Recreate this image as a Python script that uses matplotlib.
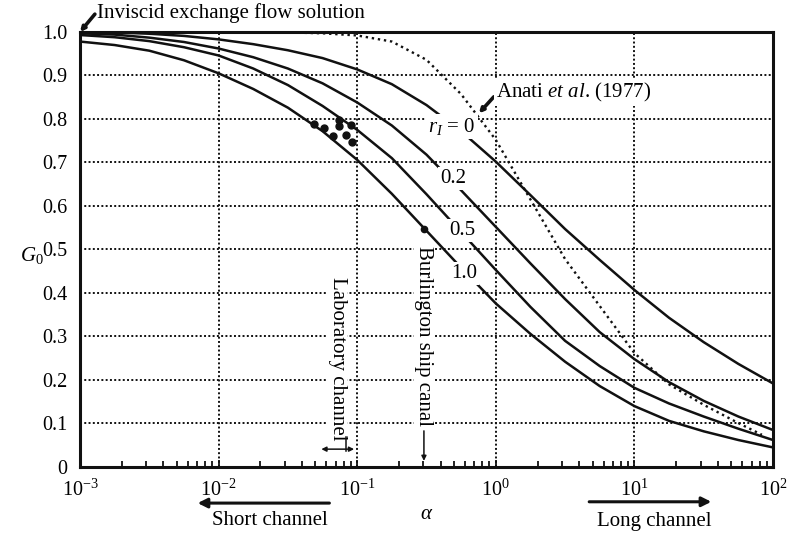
import matplotlib
matplotlib.use("Agg")
import matplotlib.pyplot as plt
import numpy as np

plt.rcParams["font.family"] = ["Liberation Serif", "DejaVu Serif"]
plt.rcParams["mathtext.fontset"] = "custom"
plt.rcParams["mathtext.rm"] = "Liberation Serif"
plt.rcParams["mathtext.it"] = "Liberation Serif:italic"
plt.rcParams["mathtext.bf"] = "Liberation Serif:bold"
plt.rcParams["font.size"] = 15

# G0 against log10(alpha) for each interfacial friction ratio r_I
r_labels = ["$r_I$ = 0", "0.2", "0.5", "1.0"]
log_alpha = [-3.0, -2.75, -2.5, -2.25, -2.0, -1.75, -1.5, -1.25, -1.0, -0.75, -0.5,
             -0.25, 0.0, 0.25, 0.5, 0.75, 1.0, 1.25, 1.5, 1.75, 2.0]
g0_r0 = [1.000, 0.999, 0.996, 0.991, 0.983, 0.972, 0.958, 0.940, 0.914, 0.880, 0.832,
         0.772, 0.702, 0.625, 0.547, 0.476, 0.407, 0.343, 0.287, 0.237, 0.192]
g0_r02 = [0.997, 0.994, 0.987, 0.977, 0.962, 0.942, 0.916, 0.882, 0.838, 0.785, 0.718,
          0.636, 0.552, 0.468, 0.386, 0.310, 0.248, 0.195, 0.152, 0.116, 0.085]
g0_r05 = [0.993, 0.988, 0.979, 0.965, 0.946, 0.916, 0.878, 0.830, 0.775, 0.710, 0.627,
          0.540, 0.453, 0.368, 0.290, 0.232, 0.182, 0.146, 0.116, 0.088, 0.062]
g0_r1 = [0.978, 0.970, 0.957, 0.935, 0.905, 0.869, 0.826, 0.772, 0.706, 0.628, 0.543,
         0.458, 0.376, 0.306, 0.242, 0.186, 0.140, 0.106, 0.082, 0.062, 0.045]

# Anati et al. (1977)
log_alpha_anati = [-2.0, -1.75, -1.5, -1.25, -1.0, -0.75, -0.5, -0.25, 0.0, 0.25, 0.5,
                   0.75, 1.0, 1.25, 1.5, 1.75, 1.92]
g0_anati = [1.000, 1.000, 0.999, 0.997, 0.992, 0.978, 0.936, 0.857, 0.752, 0.615, 0.478,
            0.370, 0.262, 0.190, 0.143, 0.101, 0.074]

# laboratory channel experiments
lab_alpha = [0.0491, 0.0579, 0.0664, 0.0742, 0.0742, 0.0830, 0.0895, 0.0917]
lab_g0 = [0.788, 0.779, 0.762, 0.797, 0.784, 0.764, 0.787, 0.746]

# Burlington ship canal
burl_alpha = 0.303
burl_g0 = 0.548

y_ticks = [0.0, 0.1, 0.2, 0.3, 0.4, 0.5, 0.6, 0.7, 0.8, 0.9, 1.0]
y_ticklabels = ["0", "0.1", "0.2", "0.3", "0.4", "0.5", "0.6", "0.7", "0.8", "0.9", "1.0"]

ink = "#111111"

fig = plt.figure(figsize=(7.89, 5.34), dpi=100)
ax = fig.add_axes([0.1014, 0.1255, 0.8783, 0.8146])
ax.set_xscale("log")
ax.set_xlim(1e-3, 1e2)
ax.set_ylim(0, 1)

ax.grid(True, which="major", linestyle=(0, (1, 1.2)), linewidth=1.4, color=ink)
ax.set_axisbelow(True)

for s in ax.spines.values():
    s.set_linewidth(2.2)
    s.set_color(ink)

ax.set_yticks(y_ticks)
ax.set_yticklabels(y_ticklabels)
ax.tick_params(axis="both", labelsize=14.5)
ax.tick_params(axis="y", length=0, pad=9)
ax.tick_params(axis="x", which="both", direction="in", top=False, color=ink, pad=9)
ax.tick_params(axis="x", which="major", length=5, width=1.3)
ax.tick_params(axis="x", which="minor", length=4, width=1.3)

alpha = 10 ** np.array(log_alpha)
for g in (g0_r0, g0_r02, g0_r05, g0_r1):
    ax.plot(alpha, g, color=ink, lw=1.8, zorder=3)

ax.plot(10 ** np.array(log_alpha_anati), g0_anati, color=ink, lw=1.7,
        linestyle=(0, (1, 1.6)), zorder=3)

ax.plot(lab_alpha, lab_g0, "o", ms=5, color=ink, zorder=4)
ax.plot([burl_alpha], [burl_g0], "o", ms=4.5, color=ink, zorder=4)

# curve labels sit in gaps cut out of the lines
label_pos = [(0.482, 0.782), (0.491, 0.664), (0.573, 0.543), (0.589, 0.445)]
for (xl, yl), txt in zip(label_pos, r_labels):
    ax.text(xl, yl, txt, ha="center", va="center", zorder=5,
            bbox=dict(facecolor="white", edgecolor="none", pad=1.5))

# inviscid limit
ax.annotate("", xy=(1e-3, 1.0), xytext=(1.28e-3, 1.041),
            arrowprops=dict(arrowstyle="-|>", lw=2.6, color=ink, mutation_scale=6,
                            shrinkA=0, shrinkB=0), annotation_clip=False)
ax.text(1.32e-3, 1.043, "Inviscid exchange flow solution", ha="left", va="center")

# Anati et al.
ax.annotate("", xy=(0.755, 0.813), xytext=(0.968, 0.851),
            arrowprops=dict(arrowstyle="-|>", lw=2.6, color=ink, mutation_scale=6,
                            shrinkA=0, shrinkB=0))
ax.text(1.0, 0.860, "Anati $et$ $al$. (1977)", ha="left", va="center",
        bbox=dict(facecolor="white", edgecolor="none", pad=1.0), zorder=5)

# laboratory channel range
ax.text(0.0718, 0.248, "Laboratory channel", rotation=-90, ha="center", va="center",
        bbox=dict(facecolor="white", edgecolor="none", pad=0.5), zorder=5)
ax.annotate("", xy=(0.0551, 0.041), xytext=(0.0950, 0.041),
            arrowprops=dict(arrowstyle="<|-|>", lw=1.1, color=ink, mutation_scale=7,
                            shrinkA=0, shrinkB=0), zorder=5)
ax.plot([0.0833, 0.0833], [0.037, 0.069], color=ink, lw=1.1, zorder=5)

# Burlington ship canal
ax.text(burl_alpha, 0.302, "Burlington ship canal", rotation=-90, ha="center", va="center",
        bbox=dict(facecolor="white", edgecolor="none", pad=0.5), zorder=5)
ax.annotate("", xy=(burl_alpha, 0.014), xytext=(burl_alpha, 0.083),
            arrowprops=dict(arrowstyle="-|>", lw=1.1, color=ink, mutation_scale=7,
                            shrinkA=0, shrinkB=0), zorder=5)

# channel length arrows below the axis
ax.annotate("", xy=(0.00706, -0.083), xytext=(0.063, -0.083),
            arrowprops=dict(arrowstyle="-|>", lw=2.2, color=ink, mutation_scale=14,
                            shrinkA=0, shrinkB=0), annotation_clip=False)
ax.text(0.0233, -0.122, "Short channel", ha="center", va="center")
ax.annotate("", xy=(35.9, -0.080), xytext=(4.72, -0.080),
            arrowprops=dict(arrowstyle="-|>", lw=2.2, color=ink, mutation_scale=14,
                            shrinkA=0, shrinkB=0), annotation_clip=False)
ax.text(13.9, -0.126, "Long channel", ha="center", va="center")

ax.set_xlabel(r"$\alpha$", va="center")
ax.xaxis.set_label_coords(0.5, -0.110)
ax.set_ylabel("$G_0$", rotation=0, ha="center", va="center")
ax.yaxis.set_label_coords(-0.069, 0.487)

fig.savefig("out.png", dpi=100)
